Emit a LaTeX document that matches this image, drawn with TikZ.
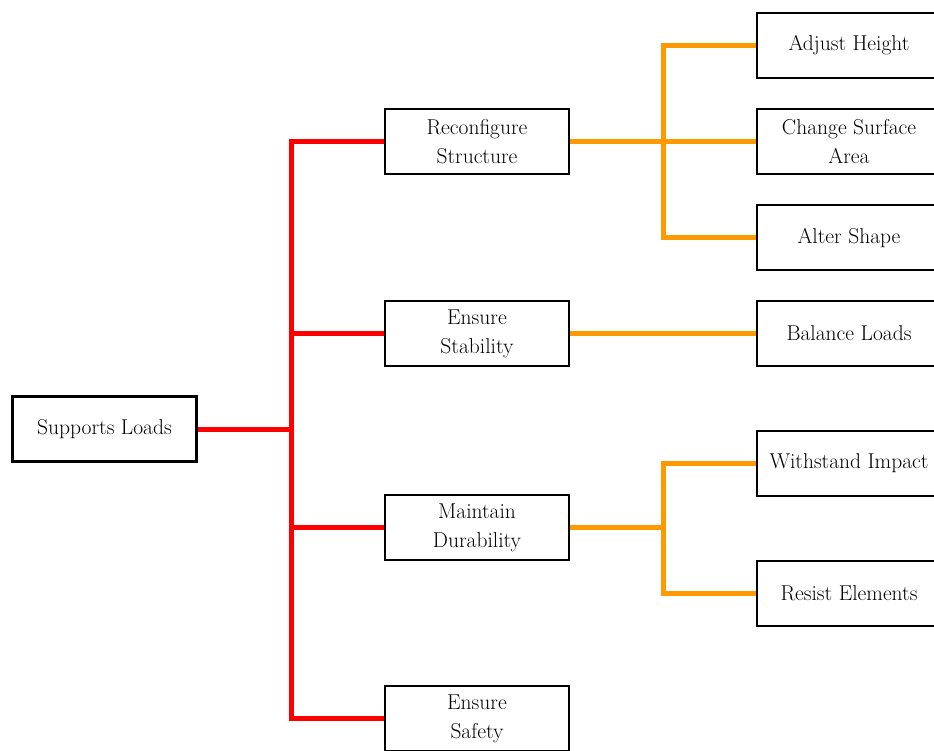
\documentclass[tikz,border=0pt]{standalone}
\usepackage{tikz}
\usetikzlibrary{positioning}
\definecolor{treered}{RGB}{255,0,0}
\definecolor{treeorange}{RGB}{255,153,0}
\pgfdeclarelayer{connectors}
\pgfsetlayers{connectors,main}
\tikzset{
  box/.style={draw=black, line width=2.8pt, fill=white, minimum width=184pt, minimum height=65pt,
    inner sep=2pt, align=center, font=\fontsize{21.5}{29}\selectfont},
  redline/.style={draw=treered, line width=5pt},
  orangeline/.style={draw=treeorange, line width=5pt},
}
\begin{document}
\begin{tikzpicture}[x=1pt, y=-1pt]
\useasboundingbox (0,0) rectangle (934,750);
\clip (0,0) rectangle (934,750);

% junction points
\coordinate (rtrunk) at (291,429);
\coordinate (otop) at (663,141.5);
\coordinate (obot) at (663,527.5);

% root
\node[box] (root) at (104.5,429) {Supports Loads};

% second level
\node[box] (reconf) at (477,141.5) {Reconfigure\\Structure};
\node[box] (stab) at (477,333.5) {Ensure\\Stability};
\node[box] (dura) at (477,527.5) {Maintain\\Durability};
\node[box] (safety) at (477,718.5) {Ensure\\Safety};

% third level
\node[box] (height) at (849,45.5) {Adjust Height};
\node[box] (surface) at (849,141.5) {Change Surface\\Area};
\node[box] (shape) at (849,237.5) {Alter Shape};
\node[box] (balance) at (849,333.5) {Balance Loads};
\node[box] (impact) at (849,463.5) {Withstand Impact};
\node[box] (resist) at (849,593.5) {Resist Elements};

\begin{pgfonlayer}{connectors}
% red tree
\draw[redline] (root.east) -- (rtrunk);
\foreach \n in {reconf,stab,dura,safety}
  \draw[redline] (rtrunk) |- (\n.west);

% orange tree
\draw[orangeline] (reconf.east) -- (otop);
\foreach \n in {height,surface,shape}
  \draw[orangeline] (otop) |- (\n.west);
\draw[orangeline] (stab.east) -- (balance.west);
\draw[orangeline] (dura.east) -- (obot);
\foreach \n in {impact,resist}
  \draw[orangeline] (obot) |- (\n.west);
\end{pgfonlayer}

\end{tikzpicture}
\end{document}
